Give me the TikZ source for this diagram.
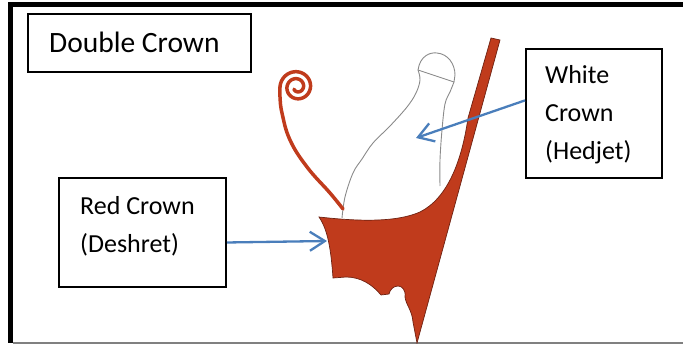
\documentclass[tikz,border=0pt]{standalone}
\usepackage{fontspec}
\setmainfont{Carlito}
\usetikzlibrary{arrows.meta,calc}
\definecolor{crownred}{HTML}{C03B1C}
\definecolor{crownedge}{HTML}{6E2212}
\definecolor{pointer}{HTML}{4A7EBB}
\definecolor{sketch}{HTML}{8A8A8A}
\begin{document}
\begin{tikzpicture}[x=1pt,y=-1pt,
  labelbox/.style={draw=black, line width=2pt, rectangle, inner sep=0pt, anchor=north west},
  caption/.style={anchor=base west, inner sep=0pt, font=\fontsize{26}{31}\selectfont},
  pointerarrow/.style={draw=pointer, line width=2.3pt,
    -{Straight Barb[length=15pt,width=19pt,line width=2.3pt]}},
  outline/.style={draw=sketch, line width=0.9pt},
  wire/.style={draw=crownred, line width=3.5pt, line cap=round},
]
\useasboundingbox (0,0) rectangle (683,344);

% page frame
\draw[line width=5pt] (10.5,343) -- (10.5,4.5) -- (686,4.5);
\draw[draw=gray, line width=2pt] (13,343) -- (683,343);

% label boxes
\node[labelbox, minimum width=223pt, minimum height=58pt] (titlebox) at (27,13) {};
\node[labelbox, minimum width=136pt, minimum height=129pt] (whitebox) at (525,48) {};
\node[labelbox, minimum width=167pt, minimum height=109pt] (redbox) at (58,177) {};

\node[caption, font=\fontsize{29.5}{35}\selectfont] (title) at (49,53) {Double Crown};
\node[caption] (white1) at (545,84) {White};
\node[caption] (white2) at (545,122) {Crown};
\node[caption] (white3) at (545,160) {(Hedjet)};
\node[caption] (red1) at (80,215) {Red Crown};
\node[caption] (red2) at (80,253) {(Deshret)};

% white crown (outline only)
\draw[outline] plot[smooth, tension=0.6] coordinates
  {(342,218) (345,197) (353,173) (362,159) (373,143) (390,126) (407,107) (416,93) (420,80) (418,70)};
\draw[outline] (418,70) .. controls (420,56) and (430,52) .. (437,53)
  .. controls (448,54) and (455,64) .. (455,75) -- (454,82);
\draw[outline] (418,70) -- (454,82);
\draw[outline] plot[smooth, tension=0.6] coordinates
  {(454,82) (450,92) (445,104) (442,130) (440,160) (440,186)};

% curled wire of the red crown
\draw[wire] plot[smooth, tension=0.7] coordinates
  {(343,209) (330,193) (307,167) (290,140) (282,113) (280,97) (280,87)};
\draw[wire] plot[domain=180:864, samples=140, variable=\t]
  ({297+(17-7*(\t-180)/360)*cos(\t)}, {87+(17-7*(\t-180)/360)*sin(\t)});

% red crown body with its tall back
\fill[crownred, draw=crownedge, line width=0.7pt]
  (319,217) .. controls (355,221) and (395,223) .. (420,212)
  .. controls (448,198) and (462,160) .. (468,118)
  -- (491,38) -- (500,40) -- (417,343)
  -- (413,322) .. controls (412,310) and (406,305) .. (405,297)
  .. controls (406,290) and (402,286) .. (398,286)
  .. controls (393,286) and (390,290) .. (389,294)
  -- (381,295) .. controls (372,284) and (360,277) .. (346,277)
  -- (333,278) .. controls (331,250) and (328,230) .. (319,217) -- cycle;

% pointers
\coordinate (redtip) at (327,241);
\coordinate (whitetip) at (416,138);
\draw[pointerarrow] ($(redbox.north east)!0.59!(redbox.south east)$) -- (redtip);
\draw[pointerarrow] ($(whitebox.north west)!0.4!(whitebox.south west)$) -- (whitetip);
\end{tikzpicture}
\end{document}
